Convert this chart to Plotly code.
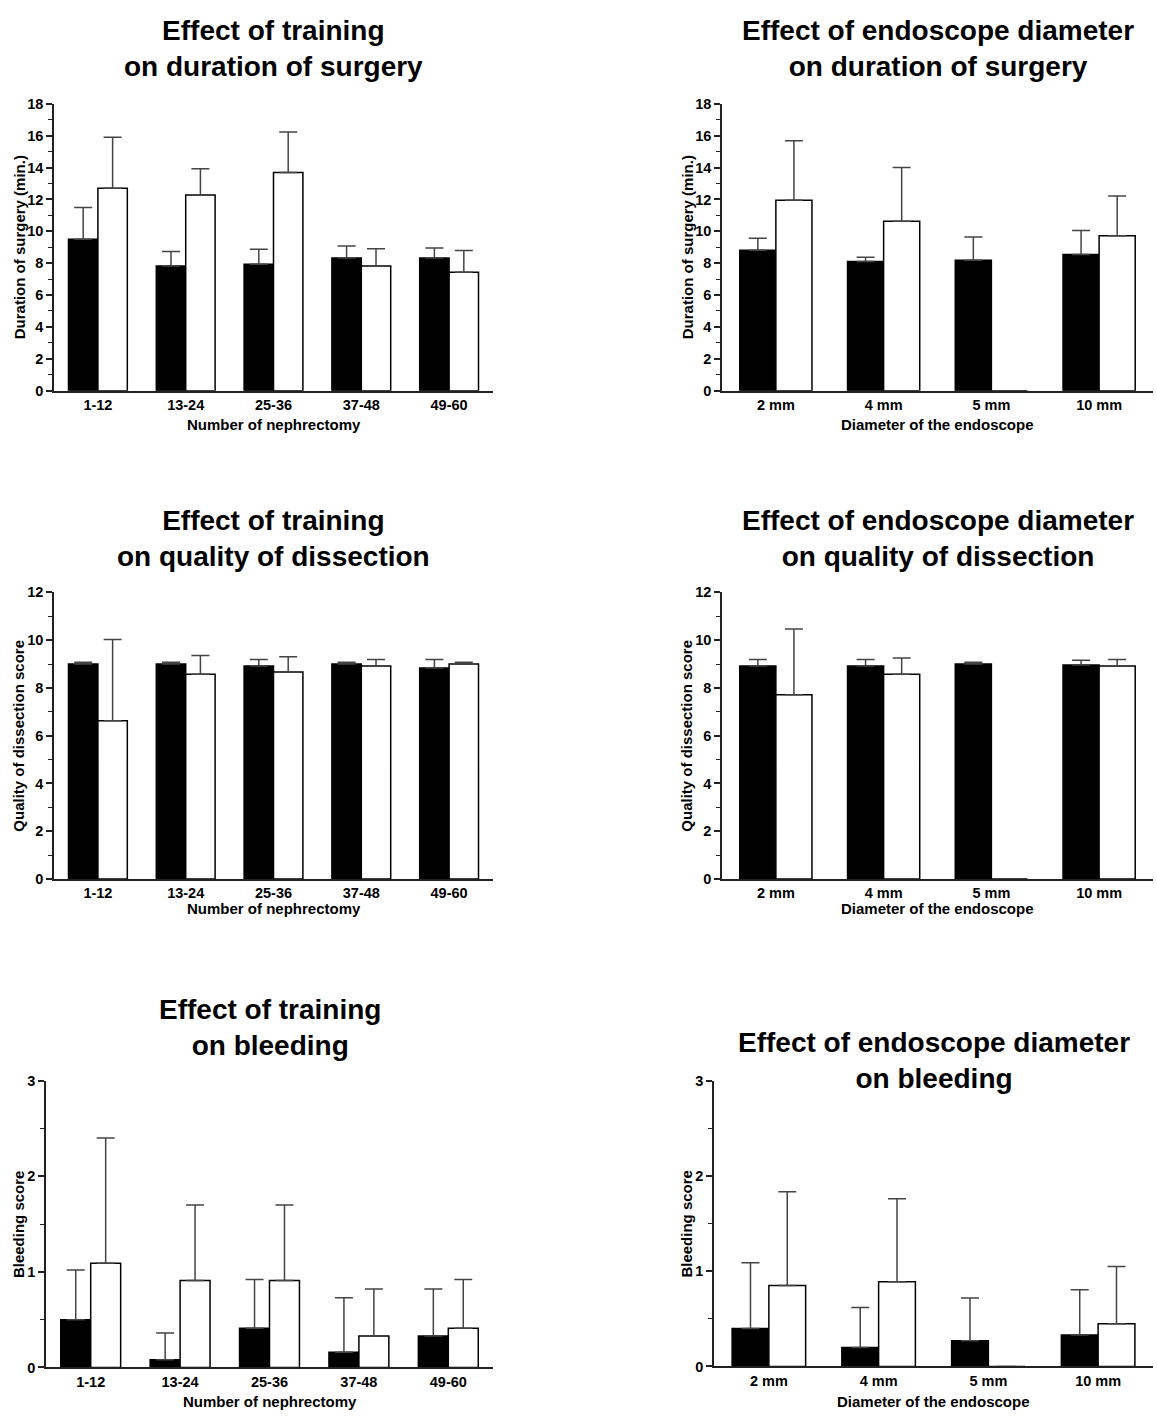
import plotly.graph_objects as go

W, H = 1157, 1417

# ---------------- data ----------------
cats_training = ["1-12", "13-24", "25-36", "37-48", "49-60"]
cats_diameter = ["2 mm", "4 mm", "5 mm", "10 mm"]

dur_train_black = [9.50, 7.82, 7.93, 8.32, 8.32]
dur_train_black_err = [2.00, 0.91, 0.95, 0.76, 0.64]
dur_train_white = [12.70, 12.28, 13.69, 7.82, 7.43]
dur_train_white_err = [3.20, 1.65, 2.54, 1.08, 1.36]

dur_diam_black = [8.81, 8.11, 8.18, 8.55]
dur_diam_black_err = [0.75, 0.27, 1.46, 1.50]
dur_diam_white = [11.95, 10.63, 0.0, 9.72]
dur_diam_white_err = [3.74, 3.37, 0.0, 2.50]

qual_train_black = [9.00, 9.00, 8.92, 9.00, 8.83]
qual_train_black_err = [0.07, 0.07, 0.27, 0.07, 0.36]
qual_train_white = [6.63, 8.57, 8.67, 8.92, 9.00]
qual_train_white_err = [3.40, 0.79, 0.63, 0.27, 0.07]

qual_diam_black = [8.92, 8.92, 9.00, 8.96]
qual_diam_black_err = [0.27, 0.27, 0.07, 0.20]
qual_diam_white = [7.71, 8.57, 0.0, 8.92]
qual_diam_white_err = [2.76, 0.68, 0.0, 0.27]

bleed_train_black = [0.50, 0.08, 0.41, 0.16, 0.33]
bleed_train_black_err = [0.52, 0.28, 0.51, 0.57, 0.49]
bleed_train_white = [1.09, 0.91, 0.91, 0.33, 0.41]
bleed_train_white_err = [1.31, 0.79, 0.79, 0.49, 0.51]

bleed_diam_black = [0.40, 0.20, 0.27, 0.33]
bleed_diam_black_err = [0.69, 0.42, 0.45, 0.475]
bleed_diam_white = [0.85, 0.89, 0.0, 0.45]
bleed_diam_white_err = [0.985, 0.87, 0.0, 0.60]

FONT = "Liberation Sans, Arial, sans-serif"

def px_x(x):
    return x / W

def px_y(y):
    return 1 - y / H

panels = [
    dict(cats=cats_training, b=dur_train_black, be=dur_train_black_err,
         w=dur_train_white, we=dur_train_white_err,
         x0=54, x1=493, top=97, bot=387, ymax=18, dtick=2, minor=1,
         title="Effect of training<br>on duration of surgery", ty=41,
         ytitle="Duration of surgery (min.)", ytx=19,
         xtitle="Number of nephrectomy", xty=421),
    dict(cats=cats_diameter, b=dur_diam_black, be=dur_diam_black_err,
         w=dur_diam_white, we=dur_diam_white_err,
         x0=722, x1=1153, top=97, bot=387, ymax=18, dtick=2, minor=1,
         title="Effect of endoscope diameter<br>on duration of surgery", ty=41,
         ytitle="Duration of surgery (min.)", ytx=687,
         xtitle="Diameter of the endoscope", xty=421),
    dict(cats=cats_training, b=qual_train_black, be=qual_train_black_err,
         w=qual_train_white, we=qual_train_white_err,
         x0=54, x1=493, top=591, bot=881, ymax=12, dtick=2, minor=1,
         title="Effect of training<br>on quality of dissection", ty=537,
         ytitle="Quality of dissection score", ytx=19,
         xtitle="Number of nephrectomy", xty=911),
    dict(cats=cats_diameter, b=qual_diam_black, be=qual_diam_black_err,
         w=qual_diam_white, we=qual_diam_white_err,
         x0=722, x1=1153, top=591, bot=881, ymax=12, dtick=2, minor=1,
         title="Effect of endoscope diameter<br>on quality of dissection", ty=537,
         ytitle="Quality of dissection score", ytx=687,
         xtitle="Diameter of the endoscope", xty=911),
    dict(cats=cats_training, b=bleed_train_black, be=bleed_train_black_err,
         w=bleed_train_white, we=bleed_train_white_err,
         x0=46, x1=493, top=1085, bot=1375, ymax=3, dtick=1, minor=0.5,
         title="Effect of training<br>on bleeding", ty=1031,
         ytitle="Bleeding score", ytx=18,
         xtitle="Number of nephrectomy", xty=1409),
    dict(cats=cats_diameter, b=bleed_diam_black, be=bleed_diam_black_err,
         w=bleed_diam_white, we=bleed_diam_white_err,
         x0=714, x1=1153, top=1085, bot=1374, ymax=3, dtick=1, minor=0.5,
         title="Effect of endoscope diameter<br>on bleeding", ty=1065,
         ytitle="Bleeding score", ytx=687,
         xtitle="Diameter of the endoscope", xty=1409),
]

fig = go.Figure()
annotations = []
AX = "#222222"
ERR = "#444444"

for i, p in enumerate(panels, start=1):
    xa = "x" if i == 1 else f"x{i}"
    ya = "y" if i == 1 else f"y{i}"
    for vals, errs, fill in ((p["b"], p["be"], "black"), (p["w"], p["we"], "white")):
        fig.add_trace(go.Bar(
            x=p["cats"], y=vals, xaxis=xa, yaxis=ya,
            marker=dict(color=fill, line=dict(color="black", width=1.5)),
            error_y=dict(type="data", array=errs, arrayminus=[0] * len(errs),
                         symmetric=False, color=ERR, thickness=1.5, width=9),
            showlegend=False, hoverinfo="x+y",
        ))
    xkey = "xaxis" if i == 1 else f"xaxis{i}"
    ykey = "yaxis" if i == 1 else f"yaxis{i}"
    fig.update_layout({
        xkey: dict(domain=[px_x(p["x0"]), px_x(p["x1"])], anchor=ya,
                   type="category", range=[-0.5, len(p["cats"]) - 0.5],
                   showline=True, linecolor=AX, linewidth=1.5,
                   ticks="", showgrid=False, zeroline=False,
                   tickfont=dict(family=FONT, size=14.5, color="black", weight="bold"),
                   ticklabelstandoff=0, fixedrange=True),
        ykey: dict(domain=[px_y(p["bot"]), px_y(p["top"])], anchor=xa,
                   range=[0, p["ymax"]], showline=True, linecolor=AX, linewidth=1.5,
                   ticks="outside", ticklen=6, tickwidth=1.5, tickcolor=AX,
                   dtick=p["dtick"], tick0=0, showgrid=False, zeroline=False,
                   minor=dict(ticks="outside", ticklen=4, tickwidth=1, tickcolor=AX,
                              dtick=p["minor"], tick0=0, showgrid=False),
                   tickfont=dict(family=FONT, size=14.5, color="black", weight="bold"),
                   fixedrange=True),
    })
    cx = (p["x0"] + p["x1"]) / 2
    annotations.append(dict(
        text=f"<b>{p['title']}</b>", x=px_x(cx), y=px_y(p["ty"]),
        xref="paper", yref="paper", xanchor="center", yanchor="middle",
        showarrow=False, font=dict(family=FONT, size=28, color="black"),
        align="center"))
    annotations.append(dict(
        text=f"<b>{p['ytitle']}</b>", x=px_x(p["ytx"]),
        y=px_y((p["top"] + p["bot"]) / 2),
        xref="paper", yref="paper", xanchor="center", yanchor="middle",
        textangle=-90, showarrow=False,
        font=dict(family=FONT, size=15, color="black")))
    annotations.append(dict(
        text=f"<b>{p['xtitle']}</b>", x=px_x(cx), y=px_y(p["xty"]),
        xref="paper", yref="paper", xanchor="center", yanchor="middle",
        showarrow=False, font=dict(family=FONT, size=15, color="black")))

fig.update_layout(
    width=W, height=H, margin=dict(l=0, r=0, t=0, b=0),
    paper_bgcolor="white", plot_bgcolor="white",
    barmode="group", bargap=0.33, bargroupgap=0,
    showlegend=False, annotations=annotations,
    font=dict(family=FONT, color="black"),
)

fig.write_html(
    "out.html",
    config={"displayModeBar": False},
    post_script="document.body.style.margin='0';document.body.style.padding='0';",
)
